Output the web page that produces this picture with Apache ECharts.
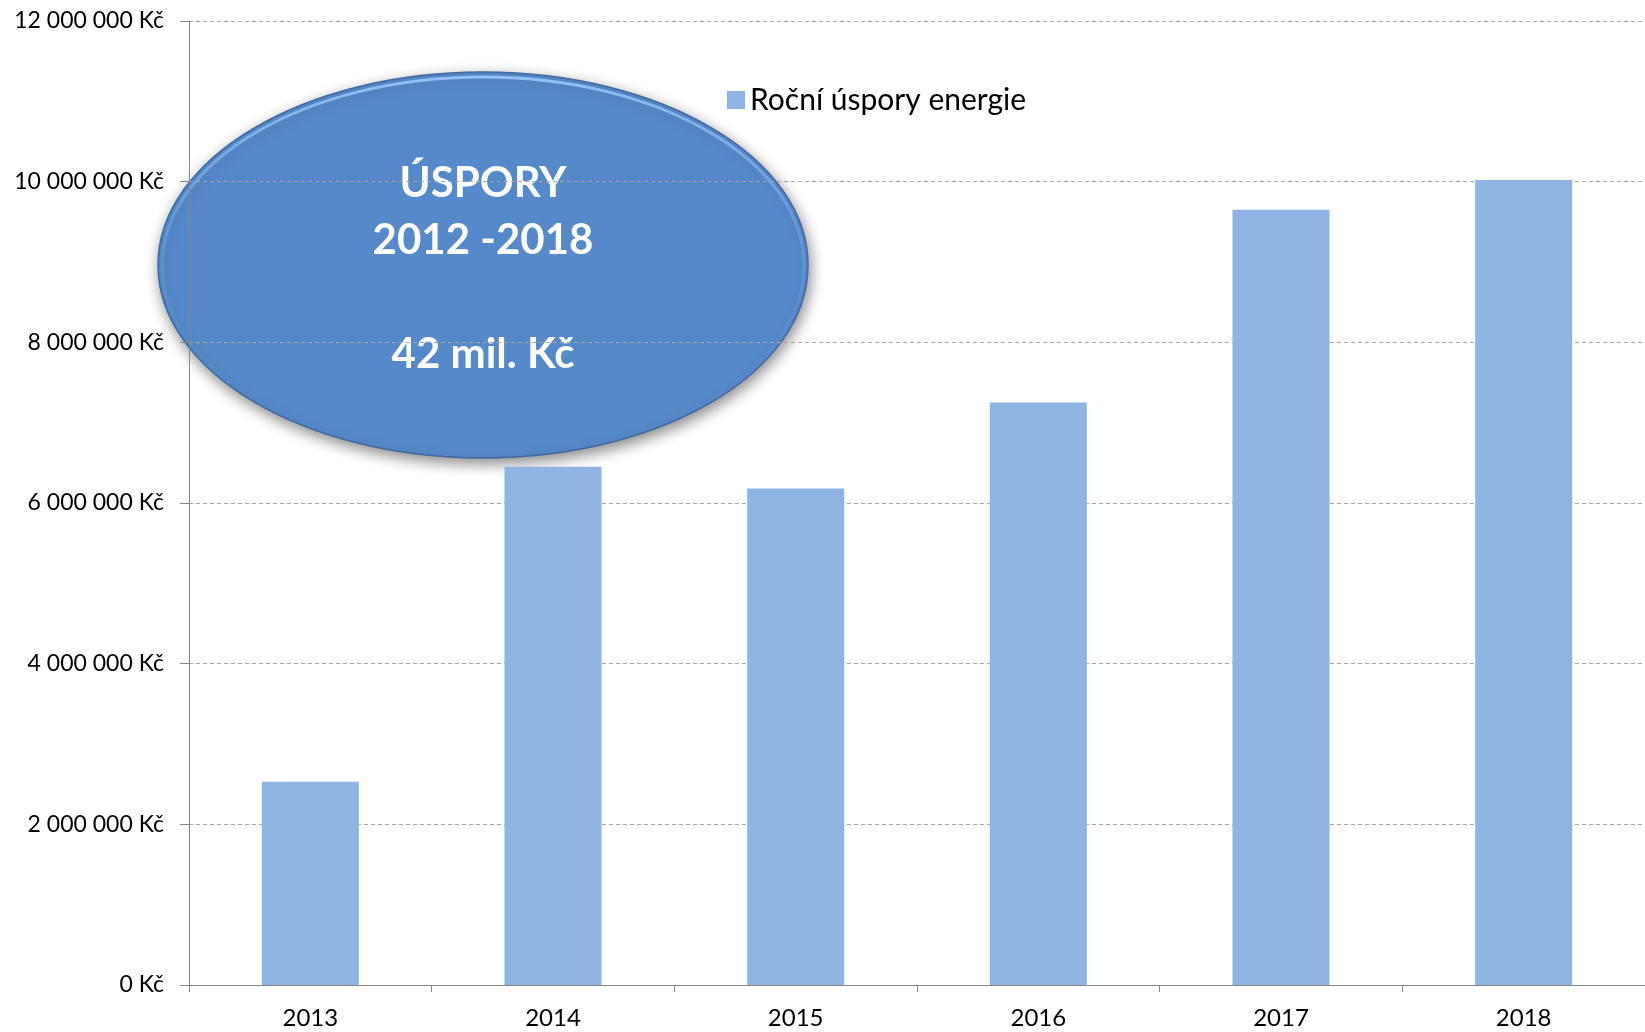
<!DOCTYPE html>
<html>
<head>
<meta charset="utf-8">
<script src="https://cdn.jsdelivr.net/npm/echarts@6/dist/echarts.min.js"></script>
<style>
html,body{margin:0;padding:0;background:#fff;}
#chart{width:1645px;height:1032px;}
</style>
</head>
<body>
<div id="chart"></div>
<script>
const categories = ['2013', '2014', '2015', '2016', '2017', '2018'];
const savings = [2530000, 6450000, 6180000, 7250000, 9650000, 10020000];
const seriesName = 'Roční úspory energie';
const yTicks = [0, 2000000, 4000000, 6000000, 8000000, 10000000, 12000000];
const calloutLines = ['ÚSPORY', '2012 -2018', '', '42 mil. Kč'];

function fmtKc(v) {
  return String(Math.round(v)).replace(/\B(?=(\d{3})+(?!\d))/g, ' ') + ' Kč';
}

const chart = echarts.init(document.getElementById('chart'), null, {renderer: 'canvas'});
const FONT = 'Lato, "Open Sans", sans-serif';

chart.setOption({
  animation: false,
  backgroundColor: '#ffffff',
  textStyle: {fontFamily: FONT},
  grid: {left: 189, right: 0, top: 21, bottom: 47, containLabel: false},
  legend: {
    data: [seriesName],
    left: 722,
    top: 80,
    itemWidth: 18,
    itemHeight: 18,
    itemGap: 8,
    icon: 'rect',
    textStyle: {fontSize: 30, color: '#000', fontFamily: FONT, padding: [0, 0, 0, 0]}
  },
  xAxis: {
    type: 'category',
    data: categories,
    boundaryGap: true,
    axisLine: {show: true, lineStyle: {color: '#868686', width: 1}},
    axisTick: {show: true, length: 7, lineStyle: {color: '#868686'}, alignWithLabel: false},
    axisLabel: {fontSize: 24, color: '#000', margin: 21, fontFamily: FONT},
    splitLine: {show: false}
  },
  yAxis: {
    type: 'value',
    min: yTicks[0],
    max: yTicks[yTicks.length - 1],
    interval: yTicks[1] - yTicks[0],
    axisLine: {show: true, lineStyle: {color: '#868686', width: 1}},
    axisTick: {show: true, length: 9, lineStyle: {color: '#868686'}},
    axisLabel: {fontSize: 23, color: '#000', margin: 25, fontFamily: FONT, formatter: fmtKc},
    splitLine: {show: true, lineStyle: {color: '#a6a6a6', type: [4, 3], width: 1}}
  },
  series: [{
    name: seriesName,
    type: 'bar',
    data: savings,
    barWidth: '40%',
    itemStyle: {color: '#8eb4e3'}
  }],
  graphic: [{
    type: 'group',
    z: 100,
    children: [{
      type: 'ellipse',
      shape: {cx: 483, cy: 265, rx: 325, ry: 193},
      style: {
        fill: '#5689ca',
        stroke: '#41699f',
        lineWidth: 1.5,
        shadowBlur: 14,
        shadowColor: 'rgba(0,0,0,0.45)',
        shadowOffsetX: 2,
        shadowOffsetY: 5
      }
    }, {
      type: 'ellipse',
      shape: {cx: 483, cy: 266, rx: 321, ry: 189},
      style: {
        fill: null,
        stroke: {
          type: 'linear', x: 0, y: 0, x2: 0, y2: 1,
          colorStops: [
            {offset: 0, color: 'rgba(150,195,250,0.95)'},
            {offset: 0.5, color: 'rgba(120,170,230,0.35)'},
            {offset: 1, color: 'rgba(80,130,200,0)'}
          ]
        },
        lineWidth: 3
      }
    }, {
      type: 'text',
      x: 483,
      y: 155,
      style: {
        text: calloutLines.join('\n'),
        fill: '#ffffff',
        font: 'bold 42px ' + FONT,
        lineHeight: 57,
        align: 'center',
        verticalAlign: 'top'
      }
    }]
  }]
});
</script>
</body>
</html>
